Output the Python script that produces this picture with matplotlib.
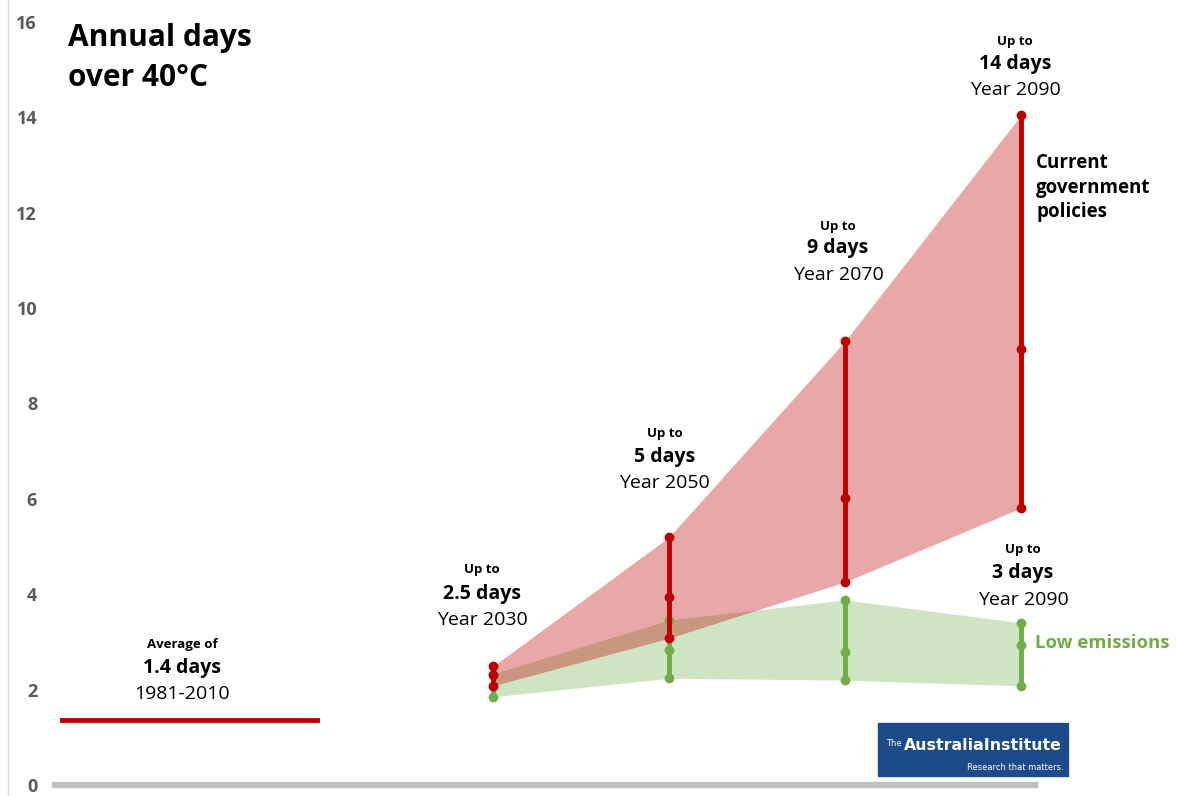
import matplotlib
matplotlib.use("Agg")
import matplotlib.pyplot as plt
from matplotlib.patches import Rectangle

plt.rcParams['font.family'] = ['Open Sans', 'DejaVu Sans']

# ---- data ----
years = [2030, 2050, 2070, 2090]
red_high = [2.49, 5.20, 9.31, 14.05]
red_mid = [2.30, 3.94, 6.02, 9.14]
red_low = [2.08, 3.08, 4.26, 5.81]
green_high = [2.33, 3.46, 3.88, 3.40]
green_mid = [2.08, 2.83, 2.79, 2.94]
green_low = [1.85, 2.24, 2.20, 2.08]
baseline_years = [1981, 2010]
baseline_value = 1.37
yticks = [0, 2, 4, 6, 8, 10, 12, 14, 16]

# labels: (x, [y up-to, y days, y year], days text, year text)
labels = [
    (2028.75, [4.51, 4.00, 3.46], "2.5 days", "Year 2030", "Up to"),
    (2049.5, [7.38, 6.88, 6.33], "5 days", "Year 2050", "Up to"),
    (2069.2, [11.72, 11.26, 10.69], "9 days", "Year 2070", "Up to"),
    (2089.3, [15.58, 15.12, 14.57], "14 days", "Year 2090", "Up to"),
    (2090.2, [4.93, 4.44, 3.88], "3 days", "Year 2090", "Up to"),
    (1994.7, [2.94, 2.45, 1.91], "1.4 days", "1981-2010", "Average of"),
]

RED = "#C00000"
GREEN = "#70AD47"

W, H = 1177, 796
fig = plt.figure(figsize=(W / 100, H / 100), dpi=100)
ax = fig.add_axes([8 / W, 0, 1 - 8 / W, 1])
ax.set_xlim(1974.9, 2107.7)
ax.set_ylim(-0.23, 16.46)

for s in ["top", "right", "bottom"]:
    ax.spines[s].set_visible(False)
ax.spines["left"].set_color("#d9d9d9")
ax.spines["left"].set_linewidth(1)
ax.set_xticks([])
ax.set_yticks(yticks)
ax.tick_params(axis="y", length=0, pad=-21, labelsize=13, labelcolor="#595959")
for t in ax.get_yticklabels():
    t.set_fontweight("bold")

# x axis line
ax.axhline(0, xmin=(55 - 8) / (W - 8), xmax=(1035 - 8) / (W - 8), color="#bfbfbf", lw=4.5, zorder=1)

# fills
ax.fill_between(years, green_low, green_high, color=GREEN, alpha=0.33, lw=0, zorder=2)
ax.fill_between(years, red_low, red_high, color=RED, alpha=0.34, lw=0, zorder=3)

# vertical ranges
for x, lo, mi, hi in zip(years, green_low, green_mid, green_high):
    ax.plot([x, x, x], [lo, mi, hi], color=GREEN, lw=3.5, marker="o", ms=6, zorder=4)
for x, lo, mi, hi in zip(years, red_low, red_mid, red_high):
    ax.plot([x, x, x], [lo, mi, hi], color=RED, lw=3.5, marker="o", ms=6, zorder=5)

# baseline
ax.plot(baseline_years, [baseline_value, baseline_value], color=RED, lw=3.5, zorder=5)

# labels
for x, ys, days, yr, up in labels:
    ax.text(x, ys[0], up, ha="center", va="center", fontsize=9.5, fontweight="bold", color="black")
    ax.text(x, ys[1], days, ha="center", va="center", fontsize=14, fontweight="bold", color="black")
    ax.text(x, ys[2], yr, ha="center", va="center", fontsize=14, color="black")

# title
fig.text(68 / W, 1 - 58 / H, "Annual days\nover 40°C", ha="left", va="center",
         fontsize=21.5, fontweight="bold", linespacing=1.4)

fig.text(1036 / W, 1 - 188 / H, "Current\ngovernment\npolicies", ha="left", va="center",
         fontsize=13.5, fontweight="bold", linespacing=1.3)
fig.text(1035 / W, 1 - 643 / H, "Low emissions", ha="left", va="center",
         fontsize=13.3, fontweight="bold", color=GREEN)

# logo
fig.patches.append(Rectangle((878 / W, 1 - 776 / H), 190 / W, 53 / H,
                             transform=fig.transFigure, color="#1d4b89", zorder=10))
fig.text(886 / W, 1 - 743 / H, "The", ha="left", va="center", fontsize=6, color="white",
         zorder=11, fontfamily="Liberation Sans Narrow")
fig.text(904 / W, 1 - 745 / H, "AustraliaInstitute", ha="left", va="center", fontsize=11.3,
         color="white", zorder=11, fontfamily="Liberation Sans Narrow", fontweight="bold")
fig.text(1064 / W, 1 - 767 / H, "Research that matters.", ha="right", va="center", fontsize=6,
         color="white", zorder=11, fontfamily="Liberation Sans Narrow")

fig.savefig("out.png", dpi=100)
